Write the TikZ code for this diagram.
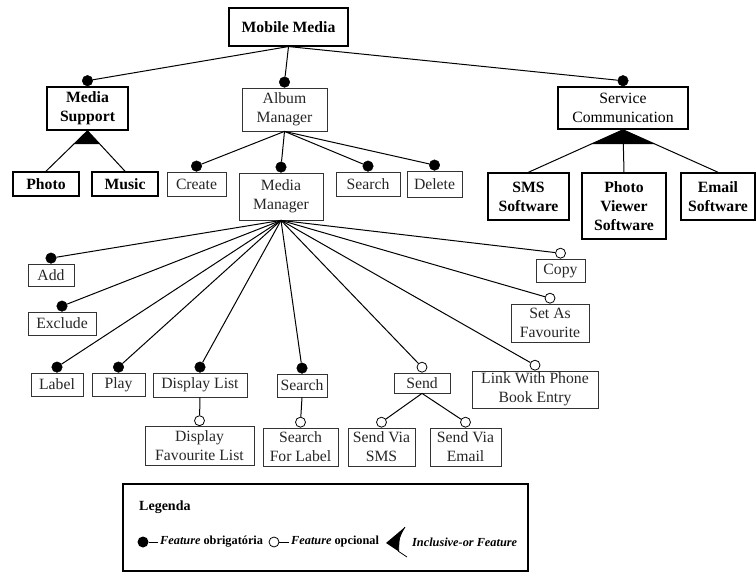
\documentclass[tikz,border=0pt]{standalone}
\usepackage{fontspec}
\setmainfont{Liberation Serif}
\usetikzlibrary{calc}
\tikzset{
  box/.style={draw=black!80, line width=0.8pt, text=black!85, inner sep=0pt, align=center,
    font=\fontsize{15.7}{19}\selectfont},
  tbox/.style={box, draw=black, line width=1.5pt, text=black},
  bbox/.style={box, draw=black, line width=1.6pt, text=black,
    font=\bfseries\fontsize{15.7}{19}\selectfont},
  mand/.style={circle, fill=black, draw=black, line width=0.5pt, inner sep=0pt, minimum size=10.5pt, anchor=south},
  opt/.style={circle, fill=white, draw=black, line width=0.8pt, inner sep=0pt, minimum size=10pt, anchor=south},
  conn/.style={line width=1pt, black},
  leg/.style={inner sep=0pt, anchor=west, font=\bfseries\fontsize{12.3}{14}\selectfont}
}
\begin{document}
\begin{tikzpicture}[x=1pt,y=-1pt]
\useasboundingbox (0,0) rectangle (756,572);
% top level
\node[bbox, line width=1.1pt, minimum width=119pt, minimum height=38pt] (mob) at (288.5,27) {Mobile Media};
\node[bbox, minimum width=81pt, minimum height=43pt] (ms) at (87.5,108.5) {Media\\Support};
\node[box, minimum width=85pt, minimum height=43pt] (am) at (284.5,109.5) {Album\\Manager};
\node[tbox, minimum width=130pt, minimum height=42pt] (sc) at (623,108) {Service\\Communication};
% second level
\node[bbox, minimum width=66pt, minimum height=24pt] (photo) at (46,184) {Photo};
\node[bbox, minimum width=66pt, minimum height=24pt] (music) at (125,184) {Music};
\node[box, minimum width=59pt, minimum height=24pt] (create) at (196.5,184) {Create};
\node[box, minimum width=84pt, minimum height=47pt] (mm) at (281,196.5) {Media\\Manager};
\node[box, minimum width=64pt, minimum height=24pt] (search1) at (368,184) {Search};
\node[box, minimum width=55pt, minimum height=26pt] (delete) at (434.5,184) {Delete};
\node[bbox, line width=1.5pt, minimum width=81pt, minimum height=47pt] (sms) at (528.5,196.5) {SMS\\Software};
\node[bbox, line width=1.5pt, minimum width=84pt, minimum height=66pt] (pvs) at (624,206) {Photo\\Viewer\\Software};
\node[bbox, line width=1.5pt, minimum width=74pt, minimum height=47pt] (email) at (718,196.5) {Email\\Software};
% media manager children
\node[box, minimum width=46pt, minimum height=22pt] (add) at (51,275) {Add};
\node[box, minimum width=68pt, minimum height=23pt] (excl) at (62,323.5) {Exclude};
\node[box, minimum width=49pt, minimum height=23pt] (copy) at (560.5,270.5) {Copy};
\node[box, minimum width=78pt, minimum height=38pt] (fav) at (550,323) {Set As\\Favourite};
\node[box, minimum width=52pt, minimum height=23pt] (label) at (57,384.5) {Label};
\node[box, minimum width=53pt, minimum height=23pt] (play) at (118.5,384.5) {Play};
\node[box, minimum width=94pt, minimum height=24pt] (dlist) at (200,385) {Display List};
\node[box, minimum width=50pt, minimum height=23pt] (search2) at (302,385.5) {Search};
\node[box, minimum width=56pt, minimum height=20pt] (send) at (422,383) {Send};
\node[box, minimum width=126pt, minimum height=37pt] (link) at (535,389.5) {Link With Phone\\Book Entry};
% bottom level
\node[box, minimum width=109pt, minimum height=39pt] (dfl) at (199.5,446) {Display\\Favourite List};
\node[box, minimum width=75pt, minimum height=38pt] (sfl) at (300.5,447) {Search\\For Label};
\node[box, minimum width=67pt, minimum height=38pt] (svsms) at (381.5,447) {Send Via\\SMS};
\node[box, minimum width=71pt, minimum height=38pt] (svemail) at (465.5,447) {Send Via\\Email};
% dots
\node[mand] (d-ms) at (ms.north) {};
\node[mand] (d-am) at (am.north) {};
\node[mand] (d-sc) at (sc.north) {};
\node[mand] (d-create) at (create.north) {};
\node[mand] (d-mm) at (mm.north) {};
\node[mand] (d-search1) at (search1.north) {};
\node[mand] (d-delete) at (delete.north) {};
\node[mand] (d-add) at (add.north) {};
\node[mand] (d-excl) at (excl.north) {};
\node[mand] (d-label) at (label.north) {};
\node[mand] (d-play) at (play.north) {};
\node[mand] (d-dlist) at (dlist.north) {};
\node[mand] (d-search2) at (search2.north) {};
\node[opt] (d-send) at (send.north) {};
\node[opt] (d-link) at (link.north) {};
\node[opt] (d-fav) at (fav.north) {};
\node[opt] (d-copy) at (copy.north) {};
\node[opt] (d-dfl) at (dfl.north) {};
\node[opt] (d-sfl) at (sfl.north) {};
\node[opt] (d-svsms) at (svsms.north) {};
\node[opt] (d-svemail) at (svemail.north) {};
% connectors
\draw[conn] (mob.south) -- (d-ms);
\draw[conn] (mob.south) -- (d-am);
\draw[conn] (mob.south) -- (d-sc);
\draw[conn] (ms.south) -- (photo.north);
\draw[conn] (ms.south) -- (music.north);
\fill (ms.south) -- ($(ms.south)!0.33!(photo.north)$) -- ($(ms.south)!0.33!(music.north)$) -- cycle;
\foreach \c in {create,mm,search1,delete} \draw[conn] (am.south) -- (d-\c);
\draw[conn] (sc.south) -- (sms.north);
\draw[conn] (sc.south) -- (pvs.north);
\draw[conn] (sc.south) -- (email.north);
\fill (sc.south) -- ($(sc.south)!0.34!(sms.north)$) -- ($(sc.south)!0.34!(email.north)$) -- cycle;
\foreach \c in {add,excl,label,play,dlist,search2,send,link,fav,copy} \draw[conn] (mm.south) -- (d-\c);
\draw[conn] (dlist.south) -- (d-dfl);
\draw[conn] (search2.south) -- (d-sfl);
\draw[conn] (send.south) -- (d-svsms);
\draw[conn] (send.south) -- (d-svemail);
% legend
\draw[line width=1.2pt] (123,484) rectangle (528,571);
\node[leg, font=\bfseries\fontsize{14}{16}\selectfont] (legt) at (139,507) {Legenda};
\node[circle, fill=black, inner sep=0pt, minimum size=11pt] (lg1) at (143,542) {};
\coordinate (lg1e) at (158,542);
\draw[conn] (lg1) -- (lg1e);
\node[leg] (lt1) at (160,542) {\textit{Feature} obrigatória};
\node[circle, draw=black, line width=0.8pt, fill=white, inner sep=0pt, minimum size=10pt] (lg2) at (274,542) {};
\coordinate (lg2e) at (289,542);
\draw[conn] (lg2) -- (lg2e);
\node[leg] (lt2) at (291,542) {\textit{Feature} opcional};
\coordinate (ta) at (386,543);
\coordinate (tt) at (405,527);
\coordinate (tm) at (398.6,551.4);
\coordinate (tb) at (407,557);
\fill (ta) -- (tt) .. controls (399,537) .. (tm) -- cycle;
\draw[line width=0.8pt] (tt) .. controls (399,537) .. (tm) -- (tb);
\node[leg] (lt3) at (412,542) {\textit{Inclusive-or Feature}};
\end{tikzpicture}
\end{document}
